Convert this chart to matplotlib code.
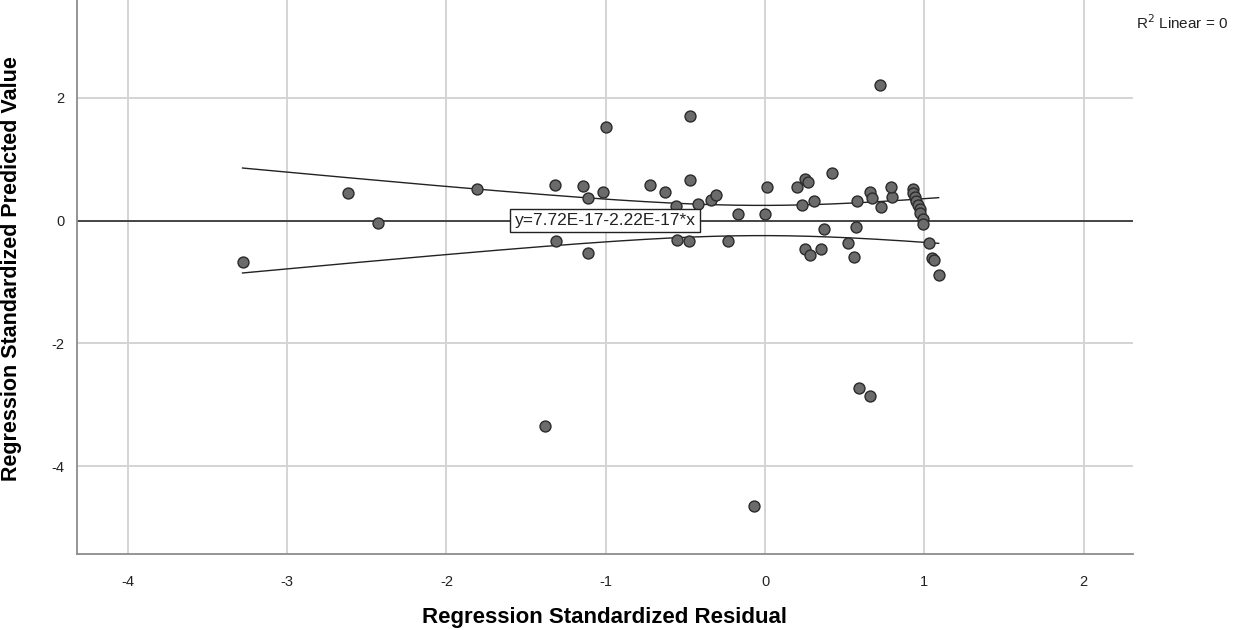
import numpy as np
import matplotlib
matplotlib.use("Agg")
import matplotlib.pyplot as plt

plt.rcParams['font.family'] = ['Liberation Sans', 'DejaVu Sans']
plt.rcParams['axes.unicode_minus'] = False

# Regression Standardized Residual (x) / Predicted Value (y)
residual = [
    -3.28, -2.62, -2.43, -1.81, -1.32, -1.31, -1.14, -1.11, -1.11, -1.00,
    -1.02, -0.72, -0.63, -0.47, -0.47, -0.56, -0.55, -0.48, -0.42, -0.34,
    -0.31, -0.17, -0.23, 0.01, 0.00, -0.07, -1.38, 0.20, 0.25, 0.27,
    0.42, 0.23, 0.31, 0.58, 0.66, 0.67, 0.73, 0.80, 0.79, 0.72,
    0.37, 0.57, 0.25, 0.28, 0.35, 0.52, 0.56, 0.59, 0.66,
    0.93, 0.93, 0.94, 0.95, 0.96, 0.97, 0.97, 0.99, 0.99, 1.03,
    1.05, 1.06, 1.09,
]
predicted = [
    -0.68, 0.45, -0.04, 0.51, 0.57, -0.33, 0.56, 0.36, -0.53, 1.52,
    0.46, 0.58, 0.46, 1.70, 0.66, 0.24, -0.31, -0.33, 0.27, 0.33,
    0.42, 0.11, -0.33, 0.54, 0.11, -4.65, -3.35, 0.54, 0.67, 0.62,
    0.77, 0.26, 0.32, 0.32, 0.47, 0.37, 0.22, 0.38, 0.55, 2.21,
    -0.14, -0.10, -0.47, -0.56, -0.47, -0.37, -0.59, -2.73, -2.85,
    0.51, 0.45, 0.39, 0.32, 0.26, 0.19, 0.13, 0.02, -0.06, -0.36,
    -0.61, -0.64, -0.88,
]

# fit reported on the chart
intercept = 7.72e-17
slope = -2.22e-17
fit_label = "y=7.72E-17-2.22E-17*x"

x = np.array(residual)
y = np.array(predicted)
n = len(x)

# confidence band for the mean
yhat = intercept + slope * x
s = np.sqrt(np.sum((y - yhat) ** 2) / (n - 2))
xbar = x.mean()
sxx = np.sum((x - xbar) ** 2)
t = 1.8
xs = np.linspace(x.min(), x.max(), 200)
half = t * s * np.sqrt(1 / n + (xs - xbar) ** 2 / sxx)
band_mid = intercept + slope * xs

fig = plt.figure(figsize=(12.4, 6.3), dpi=100)
ax = fig.add_axes([0.0621, 0.1206, 0.8516, 0.8794])

ax.set_xlim(-4.319, 2.31)
ax.set_ylim(-5.43, 3.59)
ax.set_xticks([-4, -3, -2, -1, 0, 1, 2])
ax.set_yticks([-4, -2, 0, 2])
ax.grid(True, color='#d4d4d4', linewidth=1.4, zorder=0)
ax.set_axisbelow(True)
ax.tick_params(length=0, labelsize=10.5, colors='#222222')
ax.tick_params(axis='x', pad=15)
ax.tick_params(axis='y', pad=9)

for side in ['top', 'right']:
    ax.spines[side].set_visible(False)
for side in ['left', 'bottom']:
    ax.spines[side].set_color('#8c8c8c')
    ax.spines[side].set_linewidth(1.3)

# fit line across the whole axis
xl = np.array(ax.get_xlim())
ax.plot(xl, intercept + slope * xl, color='#3a3a3a', linewidth=1.3, zorder=2)

# confidence band
ax.plot(xs, band_mid + half, color='#222222', linewidth=1.0, zorder=2)
ax.plot(xs, band_mid - half, color='#222222', linewidth=1.0, zorder=2)

ax.scatter(x, y, s=62, facecolor='#6b6b6b', edgecolor='#2a2a2a',
           linewidth=1.0, zorder=3)

ax.text(-1.004, 0.0, fit_label, ha='center', va='center', fontsize=12.5,
        color='#222222', zorder=5,
        bbox=dict(boxstyle='square,pad=0.25', facecolor='white',
                  edgecolor='#222222', linewidth=1.0))

ax.set_xlabel("Regression Standardized Residual", fontsize=16, fontweight='bold')
ax.set_ylabel("Regression Standardized Predicted Value", fontsize=15.5, fontweight='bold')
ax.xaxis.set_label_coords(0.5, -0.095)
ax.yaxis.set_label_coords(-0.052, 0.515)

fig.text(1136 / 1240, 1 - 23 / 630, "R$^2$ Linear = 0", fontsize=11,
         ha='left', va='center', color='#222222')

fig.savefig("out.png", dpi=100)
